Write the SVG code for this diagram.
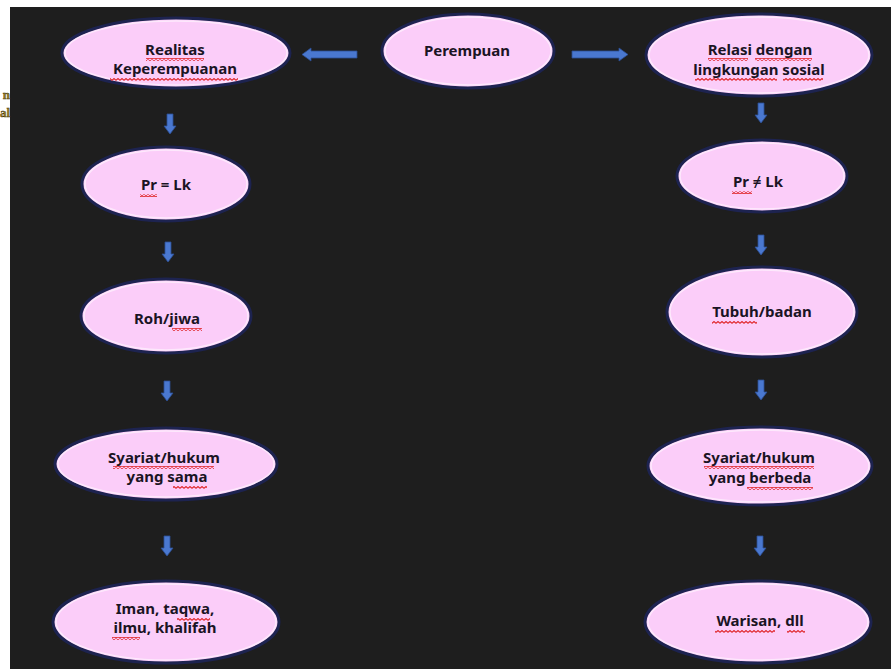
<svg xmlns="http://www.w3.org/2000/svg" width="891" height="669" viewBox="0 0 891 669">
<defs>
<style>
.node ellipse.b{fill:#fbcdf9;stroke:#1d2350;stroke-width:3}
.node ellipse.h{fill:none;stroke:#ffffff;stroke-opacity:0.55;stroke-width:1.5}
.node text{font-family:"Noto Sans","Open Sans",sans-serif;font-weight:bold;font-size:15px;fill:#1a1424;text-anchor:middle}
.sq{fill:url(#squiggle)}
.arr{fill:#4a78d0;stroke:#2c4f96;stroke-width:0.8}
.frag{font-family:"Liberation Serif",serif;font-weight:bold;font-size:13px;fill:#9c8226;stroke:#3a2f0c;stroke-width:0.4;text-anchor:end}
</style>
<pattern id="squiggle" x="0" y="0" width="4" height="3" patternUnits="userSpaceOnUse">
<polyline points="0,2.4 2,0.6 4,2.4" fill="none" stroke="#e0262a" stroke-width="1.2"/>
</pattern>
<path id="down" d="M-3,0 H3 V12 H6 L0,20 L-6,12 H-3 Z"/>
</defs>
<rect x="0" y="0" width="891" height="669" fill="#ffffff"/>
<rect x="10" y="7" width="881" height="662" fill="#1e1e1e"/>
<text class="frag" x="10" y="99">n</text>
<text class="frag" x="10" y="117">al</text>

<g id="connectors">
<path class="arr" d="M357,51 V58 H311 V61 L302,54.5 L311,48 V51 Z"/>
<path class="arr" d="M572,51 V58 H619 V61 L628,54.5 L619,48 V51 Z"/>
<use href="#down" class="arr" x="170" y="114"/>
<use href="#down" class="arr" x="168" y="242"/>
<use href="#down" class="arr" x="167" y="381"/>
<use href="#down" class="arr" x="167" y="536"/>
<use href="#down" class="arr" x="761" y="103"/>
<use href="#down" class="arr" x="761" y="235"/>
<use href="#down" class="arr" x="761" y="380"/>
<use href="#down" class="arr" x="760" y="536"/>
</g>

<g id="realitas" class="node">
<ellipse class="b" cx="176" cy="53" rx="114" ry="35"/>
<ellipse class="h" cx="176" cy="53" rx="111" ry="32"/>
<text x="175" y="55">Realitas</text>
<text x="175" y="74">Keperempuanan</text>
<rect class="sq" x="146" y="58" width="58" height="3"/>
<rect class="sq" x="110" y="78" width="128" height="3"/>
</g>

<g id="perempuan" class="node">
<ellipse class="b" cx="468" cy="51" rx="86" ry="37"/>
<ellipse class="h" cx="468" cy="51" rx="83" ry="34"/>
<text x="467" y="56">Perempuan</text>
</g>

<g id="relasi" class="node">
<ellipse class="b" cx="759" cy="55" rx="113" ry="41"/>
<ellipse class="h" cx="759" cy="55" rx="110" ry="38"/>
<text x="760" y="55">Relasi dengan</text>
<text x="759" y="75">lingkungan sosial</text>
<rect class="sq" x="708" y="58" width="40" height="3"/>
<rect class="sq" x="755" y="58" width="57" height="3"/>
<rect class="sq" x="695" y="78" width="82" height="3"/>
<rect class="sq" x="783" y="78" width="40" height="3"/>
</g>

<g id="pr-eq-lk" class="node">
<ellipse class="b" cx="166" cy="184" rx="84" ry="37"/>
<ellipse class="h" cx="166" cy="184" rx="81" ry="34"/>
<text x="166" y="190">Pr = Lk</text>
<rect class="sq" x="140" y="194" width="17" height="3"/>
</g>

<g id="roh-jiwa" class="node">
<ellipse class="b" cx="166" cy="316" rx="85" ry="37"/>
<ellipse class="h" cx="166" cy="316" rx="82" ry="34"/>
<text x="167" y="324">Roh/jiwa</text>
<rect class="sq" x="172" y="328" width="30" height="3"/>
</g>

<g id="syariat-sama" class="node">
<ellipse class="b" cx="166" cy="464" rx="111" ry="36"/>
<ellipse class="h" cx="166" cy="464" rx="108" ry="33"/>
<text x="164" y="463">Syariat/hukum</text>
<text x="167" y="482">yang sama</text>
<rect class="sq" x="113" y="466" width="101" height="3"/>
<rect class="sq" x="173" y="486" width="34" height="3"/>
</g>

<g id="iman" class="node">
<ellipse class="b" cx="166" cy="622" rx="113" ry="41"/>
<ellipse class="h" cx="166" cy="622" rx="110" ry="38"/>
<text x="165" y="614">Iman, taqwa,</text>
<text x="165" y="633">ilmu, khalifah</text>
<rect class="sq" x="177" y="618" width="33" height="3"/>
<rect class="sq" x="112" y="637" width="28" height="3"/>
</g>

<g id="pr-neq-lk" class="node">
<ellipse class="b" cx="762" cy="176" rx="85" ry="36"/>
<ellipse class="h" cx="762" cy="176" rx="82" ry="33"/>
<text x="758" y="187">Pr ≠ Lk</text>
<rect class="sq" x="732" y="191" width="20" height="3"/>
</g>

<g id="tubuh-badan" class="node">
<ellipse class="b" cx="762" cy="312" rx="95" ry="45"/>
<ellipse class="h" cx="762" cy="312" rx="92" ry="42"/>
<text x="762" y="317">Tubuh/badan</text>
<rect class="sq" x="712" y="321" width="45" height="3"/>
</g>

<g id="syariat-beda" class="node">
<ellipse class="b" cx="760" cy="466" rx="112" ry="39"/>
<ellipse class="h" cx="760" cy="466" rx="109" ry="36"/>
<text x="759" y="463">Syariat/hukum</text>
<text x="760" y="483">yang berbeda</text>
<rect class="sq" x="704" y="466" width="110" height="3"/>
<rect class="sq" x="747" y="487" width="66" height="3"/>
</g>

<g id="warisan" class="node">
<ellipse class="b" cx="758" cy="622" rx="113" ry="41"/>
<ellipse class="h" cx="758" cy="622" rx="110" ry="38"/>
<text x="760" y="626">Warisan, dll</text>
<rect class="sq" x="715" y="630" width="60" height="3"/>
<rect class="sq" x="787" y="630" width="18" height="3"/>
</g>
</svg>
